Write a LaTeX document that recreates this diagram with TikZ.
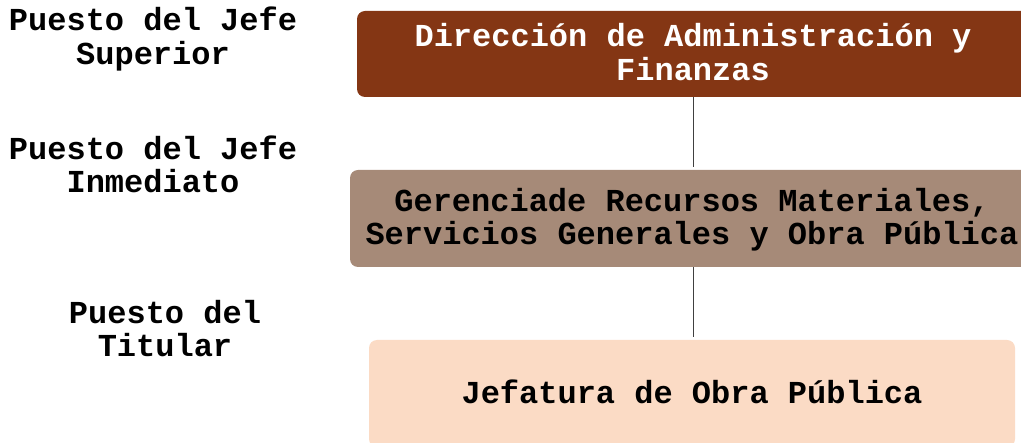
\documentclass[tikz,border=0pt]{standalone}
\usepackage{fontspec}
\newfontfamily\courfont{Liberation Mono}
\definecolor{boxA}{HTML}{843614}
\definecolor{boxB}{HTML}{A68A78}
\definecolor{boxC}{HTML}{FBDBC5}
\definecolor{lineC}{HTML}{404040}
\tikzset{
  txt/.style={font=\courfont\bfseries\fontsize{32}{31}\selectfont, align=center, inner sep=0pt},
  orgbox/.style={rounded corners=8pt, draw=none, inner sep=0pt},
  link/.style={draw=lineC, line width=1pt, shorten >=3pt}
}
\begin{document}
\begin{tikzpicture}[x=1pt,y=-1pt]
\useasboundingbox (0,0) rectangle (1021,443);
\clip (0,0) rectangle (1021,443);
% boxes
\node[orgbox, fill=boxA, minimum width=672pt, minimum height=86pt] (b1) at (693,54) {};
\node[orgbox, fill=boxB, minimum width=684pt, minimum height=97pt] (b2) at (692,218.5) {};
\node[orgbox, fill=boxC, minimum width=646pt, minimum height=107pt] (b3) at (692,393.5) {};
\node[txt, text=white] (t1) at ([yshift=-2.5pt]b1.center)
  {\strut Dirección de Administración y\\\strut Finanzas};
\node[txt, text=black] (t2) at ([yshift=-2.5pt]b2.center)
  {\strut Gerenciade Recursos Materiales,\\\strut Servicios Generales y Obra Pública};
\node[txt, text=black] (t3) at ([yshift=-3pt]b3.center)
  {\strut Jefatura de Obra Pública};
% labels
\node[txt] (l1) at (153,40.3) {\strut Puesto del Jefe\\\strut Superior};
\node[txt] (l2) at (153,169) {\strut Puesto del Jefe\\\strut Inmediato};
\node[txt] (l3) at (165,333) {\strut Puesto del\\\strut Titular};
% connectors
\draw[link] (b1.south) -- (b1.south |- b2.north);
\draw[link] (b1.south |- b2.south) -- (b1.south |- b3.north);
\end{tikzpicture}
\end{document}
